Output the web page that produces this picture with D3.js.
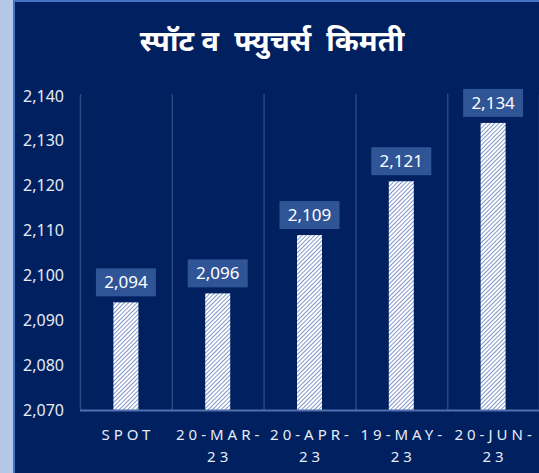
<!DOCTYPE html>
<html lang="hi">
<head>
<meta charset="UTF-8">
<title>स्पॉट व फ्युचर्स किमती</title>
<script src="https://d3js.org/d3.v7.min.js"></script>
<style>
  html, body { margin: 0; padding: 0; background: #b4c7e7; }
  svg { display: block; }
  .tick text { font-family: "Noto Sans", "Liberation Sans", sans-serif; }
</style>
</head>
<body>
<div class="canvas"></div>
<script>
  const categories = [['SPOT'], ['20-MAR-', '23'], ['20-APR-', '23'], ['19-MAY-', '23'], ['20-JUN-', '23']]
  const values = [2094, 2096, 2109, 2121, 2134]
  const yTicks = [2070, 2080, 2090, 2100, 2110, 2120, 2130, 2140]
  const title = 'स्पॉट व  फ्युचर्स  किमती'

  const width = 539
  const height = 473
  const [mt, mr, mb, ml] = [96, 0, 63, 80]

  const svg = d3.select('.canvas')
    .append('svg')
    .attr('width', width)
    .attr('height', height)

  // panel background
  svg.append('rect')
    .attr('x', 13).attr('y', 0)
    .attr('width', width - 13).attr('height', height)
    .attr('fill', '#4472c4')
  svg.append('rect')
    .attr('x', 15).attr('y', 2)
    .attr('width', width - 15).attr('height', height - 2)
    .attr('fill', '#002060')

  // hatch pattern
  const defs = svg.append('defs')
  const pat = defs.append('pattern')
    .attr('id', 'hatch')
    .attr('patternUnits', 'userSpaceOnUse')
    .attr('width', 3).attr('height', 3)
    .attr('patternTransform', 'rotate(45)')
  pat.append('rect').attr('width', 3).attr('height', 3).attr('fill', '#ffffff')
  pat.append('rect').attr('x', 0).attr('width', 1).attr('height', 3).attr('fill', '#8196c6')

  svg.append('text')
    .attr('x', 272).attr('y', 51)
    .attr('text-anchor', 'middle')
    .attr('fill', '#ffffff')
    .style('font-family', '"Noto Sans Devanagari", "Noto Sans", sans-serif')
    .style('font-size', '29px')
    .style('font-weight', 'bold')
    .style('white-space', 'pre')
    .text(title)

  const graphWidth = width - ml - mr
  const graphHeight = height - mt - mb

  const graph = svg.append('g')
    .attr('transform', `translate(${ml}, ${mt})`)

  const x = d3.scaleBand()
    .domain(d3.range(categories.length))
    .range([0, graphWidth])
    .paddingInner(0)

  const y = d3.scaleLinear()
    .domain([2070, 2140])
    .range([graphHeight, 0])

  // vertical gridlines between categories
  graph.selectAll('line.grid')
    .data(d3.range(categories.length + 1))
    .enter()
    .append('line')
    .attr('class', 'grid')
    .attr('x1', i => i * x.step() + 0.5)
    .attr('x2', i => i * x.step() + 0.5)
    .attr('y1', -2)
    .attr('y2', graphHeight)
    .attr('stroke', '#2b4780')
    .attr('stroke-width', 1.5)

  const barW = 25
  graph.selectAll('rect.bar')
    .data(values)
    .enter()
    .append('rect')
    .attr('class', 'bar')
    .attr('x', (d, i) => x(i) + x.bandwidth() / 2 - barW / 2)
    .attr('y', d => y(d))
    .attr('width', barW)
    .attr('height', d => graphHeight - y(d))
    .attr('fill', 'url(#hatch)')

  // value labels
  const fmt = d3.format(',')
  const labels = graph.selectAll('g.lab')
    .data(values)
    .enter()
    .append('g')
    .attr('class', 'lab')
    .attr('transform', (d, i) => `translate(${x(i) + x.bandwidth() / 2}, ${y(d) - 6})`)
  labels.append('rect')
    .attr('x', -30).attr('y', -28)
    .attr('width', 60).attr('height', 28)
    .attr('fill', '#2f5597')
  labels.append('text')
    .attr('y', -8)
    .attr('text-anchor', 'middle')
    .attr('fill', '#ffffff')
    .style('font-family', '"Noto Sans", sans-serif')
    .style('font-size', '17px')
    .text(d => fmt(d))

  // axes
  const yAxis = d3.axisLeft(y).tickValues(yTicks).tickSize(0).tickPadding(16).tickFormat(fmt)
  const yAxisG = graph.append('g').call(yAxis)
  yAxisG.select('.domain').remove()
  yAxisG.selectAll('text')
    .attr('fill', '#e6ecf5')
    .style('font-size', '16px')

  graph.append('line')
    .attr('x1', 0).attr('x2', graphWidth)
    .attr('y1', graphHeight + 0.5).attr('y2', graphHeight + 0.5)
    .attr('stroke', '#4f6fae')
    .attr('stroke-width', 2)

  const xl = graph.selectAll('text.xl')
    .data(categories)
    .enter()
    .append('text')
    .attr('class', 'xl')
    .attr('transform', (d, i) => `translate(${x(i) + x.bandwidth() / 2 + 2}, ${graphHeight + 30})`)
    .attr('text-anchor', 'middle')
    .attr('fill', '#e6ecf5')
    .style('font-family', '"Noto Sans", sans-serif')
    .style('font-size', '15px')
    .style('letter-spacing', '4px')
  xl.selectAll('tspan')
    .data(d => d)
    .enter()
    .append('tspan')
    .attr('x', 0)
    .attr('dy', (d, j) => j === 0 ? 0 : 22)
    .text(d => d)
</script>
</body>
</html>
